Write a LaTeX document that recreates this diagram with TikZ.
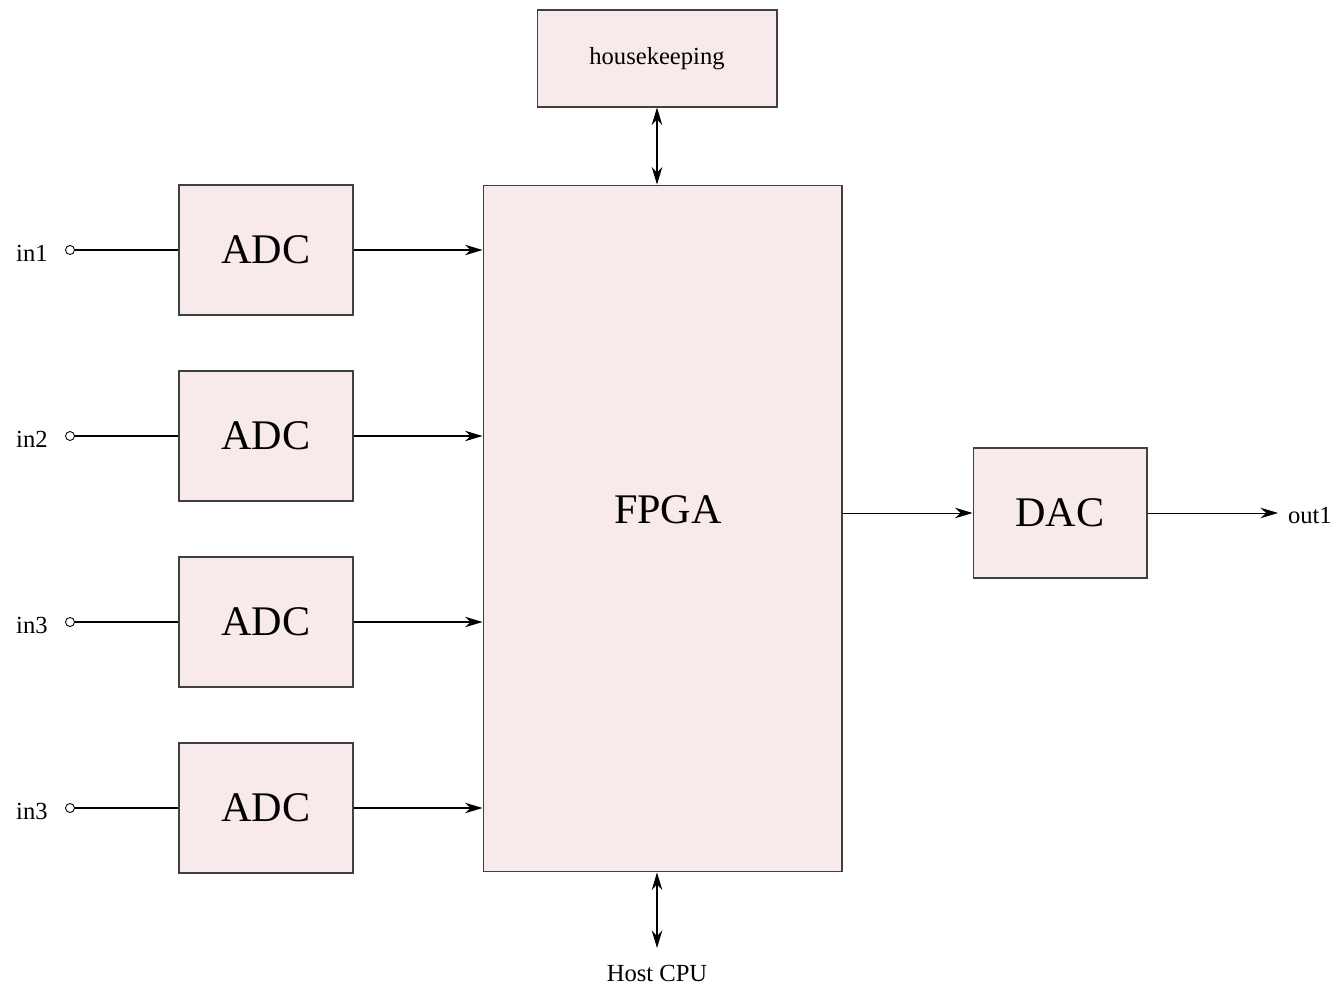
\documentclass[tikz,border=0pt]{standalone}
\usepackage{fontspec}
\setmainfont{Liberation Serif}
\usetikzlibrary{arrows.meta}
\definecolor{boxpink}{RGB}{248,234,234}
\begin{document}
\begin{tikzpicture}
  [x=0.02cm,y=-0.02cm,>={Stealth[length=10pt,width=6pt]},
   every node/.style={inner sep=0pt}]
  \tikzstyle{block} = [draw=black!75,fill=boxpink,line width=0.6pt]
  \tikzstyle{big} = [font=\fontsize{24}{28}\selectfont]
  \tikzstyle{small} = [font=\fontsize{14}{17}\selectfont]
  \tikzstyle{pin} = [circle,draw,fill=white,minimum size=0.18cm,line width=0.5pt]
  \useasboundingbox (0,0) rectangle (1338,989);
  % blocks
  \node[block,small,minimum width=4.8cm,minimum height=1.94cm] (hk) at (657,58.5) {housekeeping};
  \node[block,minimum width=7.18cm,minimum height=13.74cm] (fpga) at (662.5,528.5) {};
  \node[big] (fpgatext) at (668,510) {FPGA};
  \node[block,big,minimum width=3.48cm,minimum height=2.6cm] (dac) at (1060,513) {DAC};
  \foreach \i/\y/\name in {1/250/in1,2/436/in2,3/622/in3,4/808/in3} {
    \node[block,big,minimum width=3.48cm,minimum height=2.6cm] (adc\i) at (266,\y) {ADC};
    \node[pin] (pin\i) at (70,\y) {};
    \node[small,anchor=east] (in\i) at (48,\y+3) {\name};
    \draw[line width=0.6pt] (pin\i) -- (adc\i);
    \draw[->,line width=0.6pt] (adc\i.east) -- (adc\i.east -| fpga.west);
  }
  % outputs and buses
  \node[small,anchor=west,outer xsep=0.2cm] (out) at (1278,516) {out1};
  \node[small] (cpu) at (657,973) {Host CPU};
  \coordinate (cpuend) at (657,948);
  \draw[->,line width=0.5pt] (fpga.east |- dac) -- (dac.west);
  \draw[->,line width=0.5pt] (dac.east) -- (out.west |- dac);
  \draw[<->,line width=0.6pt] (hk.south) -- (hk.south |- fpga.north);
  \draw[<->,line width=0.6pt] (cpu |- fpga.south) -- (cpuend);
\end{tikzpicture}
\end{document}
